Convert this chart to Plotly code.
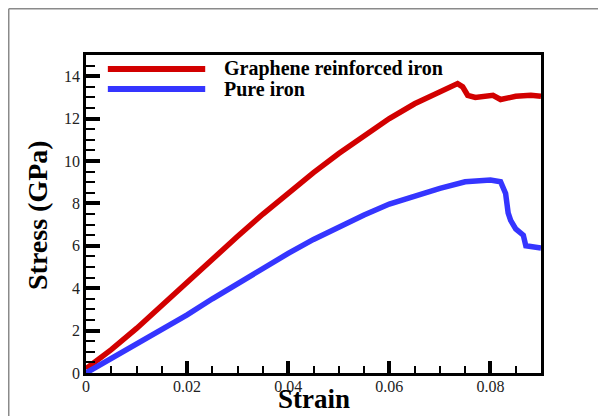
import plotly.graph_objects as go

# Graphene reinforced iron
strain_gr = [0.0, 0.005, 0.01, 0.015, 0.02, 0.025, 0.03, 0.035, 0.04, 0.045, 0.05,
             0.055, 0.06, 0.065, 0.07, 0.072, 0.0735, 0.0745, 0.0755, 0.077, 0.079,
             0.0805, 0.082, 0.083, 0.085, 0.088, 0.09]
stress_gr = [0.2, 1.1, 2.1, 3.2, 4.3, 5.4, 6.45, 7.5, 8.5, 9.45, 10.35,
             11.2, 12.0, 12.7, 13.3, 13.5, 13.65, 13.5, 13.1, 13.0, 13.05,
             13.1, 12.9, 12.95, 13.05, 13.1, 13.05]

# Pure iron
strain_fe = [0.0, 0.005, 0.01, 0.015, 0.02, 0.025, 0.03, 0.035, 0.04, 0.045, 0.05,
             0.055, 0.06, 0.065, 0.07, 0.075, 0.08, 0.082, 0.083, 0.0835, 0.084,
             0.085, 0.0865, 0.087, 0.088, 0.09]
stress_fe = [0.0, 0.68, 1.35, 2.05, 2.74, 3.5, 4.23, 4.95, 5.64, 6.3, 6.9,
             7.45, 7.97, 8.35, 8.71, 9.02, 9.1, 9.02, 8.47, 7.55, 7.2,
             6.8, 6.5, 6.0, 5.95, 5.9]

series_names = ["Graphene reinforced iron", "Pure iron"]
series_colors = ["#d20000", "#3535ff"]

x_ticks = [0, 0.02, 0.04, 0.06, 0.08]
x_tick_labels = ["0", "0.02", "0.04", "0.06", "0.08"]
y_ticks = [0, 2, 4, 6, 8, 10, 12, 14]

FONT = "Liberation Serif"

fig = go.Figure()
fig.add_trace(go.Scatter(x=strain_gr, y=stress_gr, mode="lines",
                         line=dict(color=series_colors[0], width=5.5),
                         name=series_names[0], showlegend=False))
fig.add_trace(go.Scatter(x=strain_fe, y=stress_fe, mode="lines",
                         line=dict(color=series_colors[1], width=5.5),
                         name=series_names[1], showlegend=False))

fig.update_xaxes(range=[0, 0.09], tickvals=x_ticks, ticktext=x_tick_labels,
                 ticks="inside", ticklen=12, tickwidth=4, tickcolor="black",
                 minor=dict(dtick=0.005, ticks="inside", ticklen=7, tickwidth=2, tickcolor="black"),
                 showline=True, linecolor="black", linewidth=2.5, mirror=True,
                 showgrid=False, zeroline=False, ticklabelstandoff=-3,
                 tickfont=dict(family=FONT, size=16, color="#222"))
fig.update_yaxes(range=[0, 15], tickvals=y_ticks,
                 ticks="inside", ticklen=14, tickwidth=4, tickcolor="black",
                 minor=dict(dtick=0.5, ticks="inside", ticklen=9, tickwidth=2, tickcolor="black"),
                 showline=True, linecolor="black", linewidth=2.5, mirror=True,
                 showgrid=False, zeroline=False,
                 tickfont=dict(family=FONT, size=16, color="#222"))

# manual legend
leg_y = [0.956, 0.893]
shapes = []
annotations = []
for name, col, yy in zip(series_names, series_colors, leg_y):
    shapes.append(dict(type="line", xref="paper", yref="paper", x0=0.048, x1=0.262,
                       y0=yy, y1=yy, line=dict(color=col, width=6)))
    annotations.append(dict(xref="paper", yref="paper", x=0.298, y=yy, text="<b>%s</b>" % name,
                            showarrow=False, xanchor="left", yanchor="middle",
                            font=dict(family=FONT, size=20, color="black")))

# outer gray border (left and top)
shapes.append(dict(type="line", xref="paper", yref="paper", x0=-0.1698, x1=-0.1698,
                   y0=1.1454, y1=-0.3, line=dict(color="#8a8a8a", width=1.5)))
shapes.append(dict(type="line", xref="paper", yref="paper", x0=-0.1698, x1=1.3,
                   y0=1.1454, y1=1.1454, line=dict(color="#8a8a8a", width=1.5)))

annotations.append(dict(xref="paper", yref="paper", x=0.5, y=-0.082, text="<b>Strain</b>",
                        showarrow=False, xanchor="center", yanchor="middle",
                        font=dict(family=FONT, size=27, color="black")))
annotations.append(dict(xref="paper", yref="paper", x=-0.1055, y=0.497, text="<b>Stress (GPa)</b>",
                        showarrow=False, xanchor="center", yanchor="middle", textangle=-90,
                        font=dict(family=FONT, size=28, color="black")))

fig.update_layout(width=598, height=408, margin=dict(l=78, r=65, t=47, b=43),
                  paper_bgcolor="white", plot_bgcolor="white",
                  shapes=shapes, annotations=annotations, showlegend=False)

fig.write_html("out.html")
